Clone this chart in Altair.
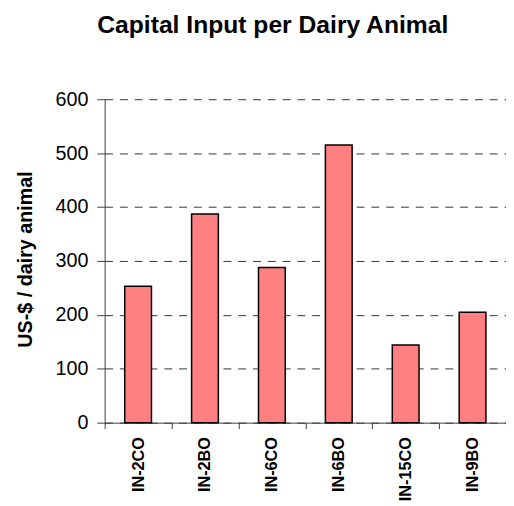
import altair as alt
import pandas as pd

farms = ["IN-2CO", "IN-2BO", "IN-6CO", "IN-6BO", "IN-15CO", "IN-9BO"]
capital = [253, 387, 288, 515, 144, 205]
y_ticks = [0, 100, 200, 300, 400, 500, 600]

df = pd.DataFrame({"farm": farms, "value": capital})

FONT = "Liberation Sans"

chart = alt.Chart(df).mark_bar(
    width=alt.RelativeBandSize(0.4),
    fill="#FF8080",
    stroke="#000000",
    strokeWidth=1.5,
).encode(
    x=alt.X(
        "farm:N",
        sort=farms,
        title=None,
        scale=alt.Scale(paddingInner=0, paddingOuter=0),
        axis=alt.Axis(
            labelAngle=270,
            labelFont=FONT,
            labelFontSize=16.5,
            labelFontWeight="bold",
            labelColor="#000000",
            labelPadding=8,
            tickSize=6,
            tickBand="extent",
            domainColor="#404040",
            tickColor="#404040",
            grid=False,
        ),
    ),
    y=alt.Y(
        "value:Q",
        title="US-$ / dairy animal",
        scale=alt.Scale(domain=[0, 600], nice=False),
        axis=alt.Axis(
            values=y_ticks,
            labelFont=FONT,
            labelFontSize=20,
            labelColor="#000000",
            labelPadding=9,
            tickSize=8,
            domainColor="#404040",
            tickColor="#404040",
            grid=True,
            gridColor="#333333",
            gridDash=[8, 7],
            gridWidth=1,
            titleFont=FONT,
            titleFontSize=20,
            titleFontWeight="bold",
            titleColor="#000000",
            titleX=-70,
            titleY=162,
            titleBaseline="bottom",
            titleAngle=270,
        ),
    ),
).properties(
    width=407,
    height=328,
    autosize=alt.AutoSizeParams(type="none"),
    padding={"left": 98, "top": 89, "right": 0, "bottom": 80},
    background="#ffffff",
    title=alt.TitleParams(
        "Capital Input per Dairy Animal",
        font=FONT,
        fontSize=25,
        fontWeight="bold",
        color="#000000",
        anchor="middle",
        dx=-33,
        offset=52,
    ),
).configure_view(strokeWidth=0)

chart.save("out.html", embed_options={"renderer": "svg", "actions": False})
